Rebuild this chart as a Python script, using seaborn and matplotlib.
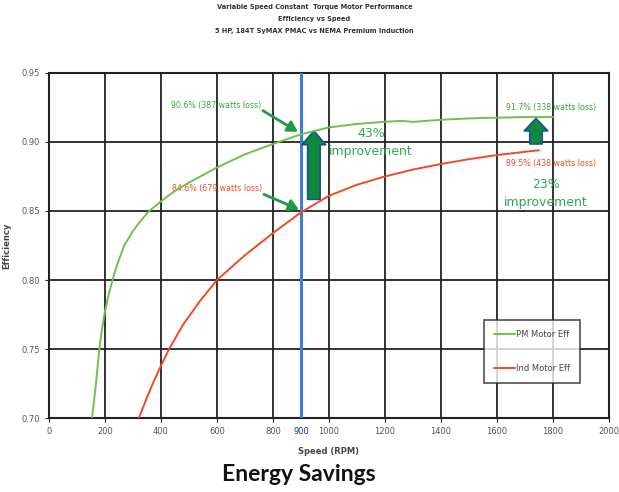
import matplotlib
matplotlib.use("Agg")
import matplotlib.pyplot as plt
import seaborn as sns
import pandas as pd

# values
pm_speed = [154, 161, 168, 174, 180, 188, 198, 211, 227, 246, 269, 300, 330, 358, 400, 450,
            500, 550, 600, 700, 800, 900, 1000, 1100, 1200, 1260, 1300, 1400, 1500, 1600,
            1700, 1800]
pm_eff = [0.700, 0.7125, 0.725, 0.7375, 0.750, 0.7625, 0.775, 0.7875, 0.800, 0.8125, 0.825,
          0.8355, 0.8435, 0.850, 0.857, 0.8645, 0.8705, 0.876, 0.8815, 0.891, 0.8985, 0.9055,
          0.9105, 0.913, 0.9146, 0.9152, 0.9145, 0.916, 0.917, 0.9175, 0.918, 0.918]
ind_speed = [321, 350, 375, 400, 429, 480, 540, 600, 700, 800, 900, 1000, 1100, 1200, 1300,
             1400, 1500, 1600, 1750]
ind_eff = [0.700, 0.715, 0.727, 0.738, 0.750, 0.768, 0.785, 0.800, 0.818, 0.834, 0.849, 0.861,
           0.869, 0.875, 0.880, 0.884, 0.8875, 0.8905, 0.894]
series_names = ["PM Motor Eff", "Ind Motor Eff"]
x_ticks = list(range(0, 2001, 200))
y_ticks = [0.70, 0.75, 0.80, 0.85, 0.90, 0.95]
ref_speed = 900

title_lines = ["Variable Speed Constant  Torque Motor Performance",
               "Efficiency vs Speed",
               "5 HP, 184T SyMAX PMAC vs NEMA Premium Induction"]

df = pd.concat([
    pd.DataFrame({"speed": pm_speed, "eff": pm_eff, "motor": series_names[0]}),
    pd.DataFrame({"speed": ind_speed, "eff": ind_eff, "motor": series_names[1]}),
])

sns.set_style("white")
fig = plt.figure(figsize=(6.19, 4.92), dpi=100)
ax = fig.add_axes([0.079, 0.150, 0.905, 0.702])

green = "#6cc24a"
red = "#f04a2a"
ax.axvline(ref_speed, color="#3b7fcf", lw=2.2, zorder=3)
sns.lineplot(data=df, x="speed", y="eff", hue="motor", sort=False,
             palette={series_names[0]: green, series_names[1]: red},
             lw=1.4, ax=ax, zorder=4)

ax.set_xlim(0, 2000)
ax.set_ylim(0.70, 0.95)
ax.set_xticks(x_ticks)
ax.set_yticks(y_ticks)
ax.set_yticklabels([f"{v:.2f}" for v in y_ticks])
ax.set_xticks([ref_speed], minor=True)
ax.set_xticklabels([str(ref_speed)], minor=True, color="#1f2f8f", fontsize=6)
ax.tick_params(axis="x", which="minor", length=3, pad=3)
ax.grid(True, which="major", color="#222222", lw=1.3)
ax.tick_params(which="major", labelsize=6, labelcolor="#555555", length=3, color="#222222",
               direction="out", bottom=True, left=True)
for s in ax.spines.values():
    s.set_color("#222222")
    s.set_linewidth(1.5)

ax.set_xlabel("Speed (RPM)", fontsize=6, fontweight="bold", color="#444444", labelpad=8)
ax.set_ylabel("Efficiency", fontsize=6, fontweight="bold", color="#444444")
ax.yaxis.set_label_coords(-0.068, 0.5)

leg = ax.legend(loc="lower right", bbox_to_anchor=(0.948, 0.101), borderaxespad=0,
                fontsize=6, frameon=True, fancybox=False, edgecolor="#222222",
                handlelength=2.5, handletextpad=0.1, labelspacing=3.0, borderpad=1.2)
leg.get_frame().set_linewidth(1.2)
for t in leg.get_texts():
    t.set_color("#444444")

# annotations
ax.text(596, 0.926, "90.6% (387 watts loss)", fontsize=5.7, color="#3aa63a",
        ha="center", va="center")
ax.text(600, 0.866, "84.6% (679 watts loss)", fontsize=5.7, color="#f04a2a",
        ha="center", va="center")
ax.annotate("", xy=(889, 0.9073), xytext=(764, 0.9226),
            arrowprops=dict(arrowstyle="-|>,head_width=0.35,head_length=0.6", color="#1f9a4a",
                            lw=2.0, shrinkA=0, shrinkB=0))
ax.annotate("", xy=(893, 0.851), xytext=(768, 0.862),
            arrowprops=dict(arrowstyle="-|>,head_width=0.35,head_length=0.6", color="#1f9a4a",
                            lw=2.0, shrinkA=0, shrinkB=0))
ax.text(1793, 0.925, "91.7% (338 watts loss)", fontsize=5.7, color="#3aa63a",
        ha="center", va="center")
ax.text(1793, 0.884, "89.5% (438 watts loss)", fontsize=5.7, color="#f04a2a",
        ha="center", va="center")
ax.text(1150, 0.8995, "43%\nimprovement", fontsize=9, color="#33a650", ha="center",
        va="center", linespacing=1.45)
ax.text(1775, 0.8625, "23%\nimprovement", fontsize=9, color="#33a650", ha="center",
        va="center", linespacing=1.45)

# thick up arrows
ax.annotate("", xy=(946, 0.908), xytext=(946, 0.8584),
            arrowprops=dict(arrowstyle="simple,head_width=1.7,head_length=1.0,tail_width=0.9",
                            fc="#0e8a3e", ec="#1f4f8f", lw=1.2, shrinkA=0, shrinkB=0))
ax.annotate("", xy=(1739, 0.917), xytext=(1739, 0.8985),
            arrowprops=dict(arrowstyle="simple,head_width=1.7,head_length=0.9,tail_width=0.9",
                            fc="#0e8a3e", ec="#1f4f8f", lw=1.2, shrinkA=0, shrinkB=0))

y0 = 0.985
for i, line in enumerate(title_lines):
    fig.text(0.508, y0 - i * 0.024, line, ha="center", va="center", fontsize=4.8,
             fontweight="bold", color="#333333")

fig.text(0.483, 0.035, "Energy Savings", ha="center", va="center", fontsize=16.5,
         fontweight="bold", family=["Lato", "DejaVu Sans"], color="#111111")

fig.savefig("out.png", dpi=100)
